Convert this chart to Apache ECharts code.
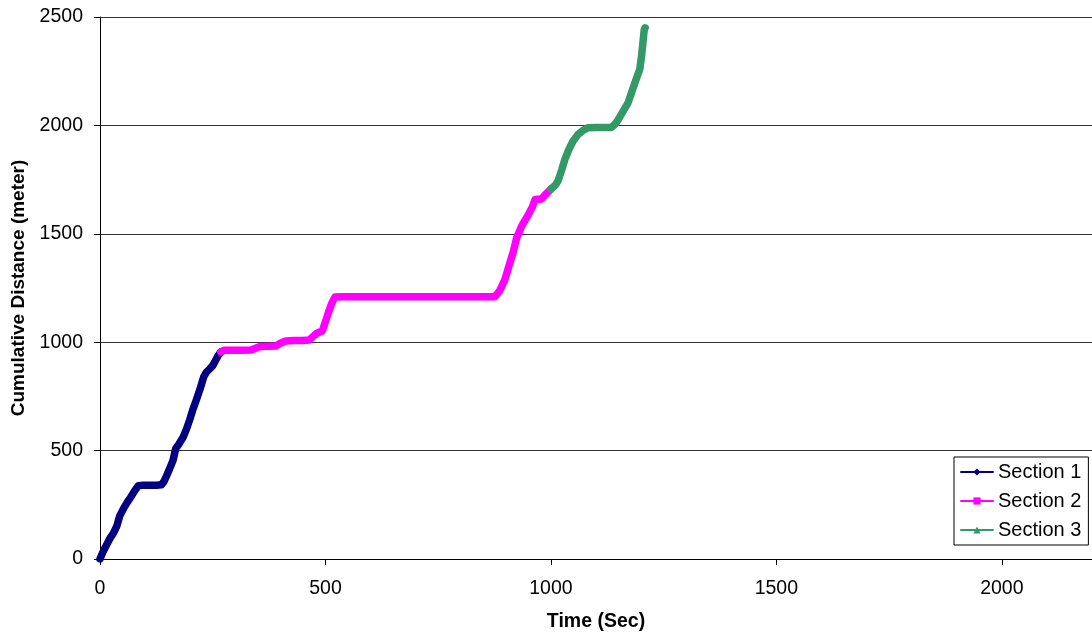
<!DOCTYPE html>
<html>
<head>
<meta charset="utf-8">
<script src="https://cdn.jsdelivr.net/npm/echarts@6/dist/echarts.min.js"></script>
<style>
html,body{margin:0;padding:0;background:#fff;}
#chart{width:1092px;height:639px;}
</style>
</head>
<body>
<div id="chart"></div>
<script>
// ---- data ----
const sectionNames = ['Section 1', 'Section 2', 'Section 3'];

const sec1Time = [0, 7, 15, 22, 30, 37, 44, 52, 60, 68, 76, 85, 95, 110, 125, 136, 142, 148, 155, 162, 168, 175, 184, 192, 199, 206, 214, 222, 230, 236, 243, 250, 256, 262, 268];
const sec1Dist = [0, 35, 67, 95, 120, 150, 200, 232, 260, 285, 312, 338, 340, 340, 340, 342, 358, 385, 420, 455, 510, 530, 560, 600, 643, 690, 736, 785, 840, 862, 876, 892, 915, 938, 955];

const sec2Time = [268, 275, 290, 310, 335, 345, 355, 375, 390, 400, 412, 430, 450, 464, 472, 480, 493, 500, 507, 514, 521, 540, 600, 700, 800, 876, 887, 898, 909, 917, 924, 935, 950, 958, 965, 979, 990, 1000];
const sec2Dist = [955, 963, 963, 963, 964, 972, 980, 981, 983, 995, 1006, 1008, 1008, 1010, 1025, 1040, 1052, 1095, 1140, 1180, 1208, 1210, 1210, 1210, 1210, 1210, 1240, 1289, 1366, 1420, 1481, 1535, 1589, 1620, 1658, 1661, 1685, 1706];

const sec3Time = [1000, 1010, 1016, 1024, 1031, 1040, 1049, 1060, 1070, 1082, 1100, 1120, 1134, 1142, 1149, 1160, 1171, 1185, 1192, 1197, 1201, 1204, 1207, 1209];
const sec3Dist = [1706, 1725, 1745, 1795, 1843, 1890, 1927, 1958, 1975, 1989, 1990, 1990, 1990, 2005, 2025, 2065, 2104, 2189, 2230, 2258, 2320, 2381, 2442, 2450];

const xTicks = [0, 500, 1000, 1500, 2000];
const yTicks = [0, 500, 1000, 1500, 2000, 2500];

function pairs(t, d) { return t.map((v, i) => [v, d[i]]); }

const colors = ['#000080', '#FF00FF', '#339966'];
const symbols = ['diamond', 'rect', 'triangle'];
const seriesData = [pairs(sec1Time, sec1Dist), pairs(sec2Time, sec2Dist), pairs(sec3Time, sec3Dist)];

const FONT = '"Liberation Sans", Arial, sans-serif';

const chart = echarts.init(document.getElementById('chart'), null, {renderer: 'canvas'});
chart.setOption({
  animation: false,
  backgroundColor: '#ffffff',
  grid: {left: 100, right: -4, top: 17, bottom: 80, containLabel: false},
  xAxis: {
    type: 'value',
    min: 0, max: 2200, interval: 500,
    name: 'Time (Sec)',
    nameLocation: 'middle',
    nameGap: 53,
    nameTextStyle: {fontFamily: FONT, fontSize: 19.5, fontWeight: 'bold', color: '#000'},
    axisLine: {show: true, lineStyle: {color: '#000', width: 1}},
    axisTick: {show: true, length: 6, inside: false, lineStyle: {color: '#000'}},
    axisLabel: {fontFamily: FONT, fontSize: 19.5, color: '#000', margin: 20, showMaxLabel: false,
      formatter: v => xTicks.indexOf(v) >= 0 ? String(v) : ''},
    splitLine: {show: false}
  },
  yAxis: {
    type: 'value',
    min: 0, max: 2500, interval: 500,
    name: 'Cumulative Distance (meter)',
    nameLocation: 'middle',
    nameGap: 72,
    nameTextStyle: {fontFamily: FONT, fontSize: 19, fontWeight: 'bold', color: '#000'},
    axisLine: {show: true, lineStyle: {color: '#000', width: 1}},
    axisTick: {show: true, length: 6, lineStyle: {color: '#000'}},
    axisLabel: {fontFamily: FONT, fontSize: 19.5, color: '#000', margin: 17,
      formatter: v => yTicks.indexOf(v) >= 0 ? String(v) : ''},
    splitLine: {show: true, lineStyle: {color: '#333', width: 1}}
  },
  legend: {
    orient: 'vertical',
    left: 954, top: 457,
    padding: [5, 7, 5, 6],
    itemGap: 9,
    itemWidth: 32,
    itemHeight: 9,
    borderColor: '#000',
    borderWidth: 1,
    backgroundColor: '#fff',
    lineStyle: {width: 2},
    textStyle: {fontFamily: FONT, fontSize: 20, color: '#000'},
    data: sectionNames
  },
  series: sectionNames.map((n, i) => ({
    name: n,
    type: 'line',
    data: seriesData[i],
    symbol: symbols[i],
    showSymbol: false,
    smooth: false,
    color: colors[i],
    lineStyle: {color: colors[i], width: 7.5, cap: 'round', join: 'round'},
    itemStyle: {color: colors[i]},
    z: 2 + i
  }))
});
</script>
</body>
</html>
